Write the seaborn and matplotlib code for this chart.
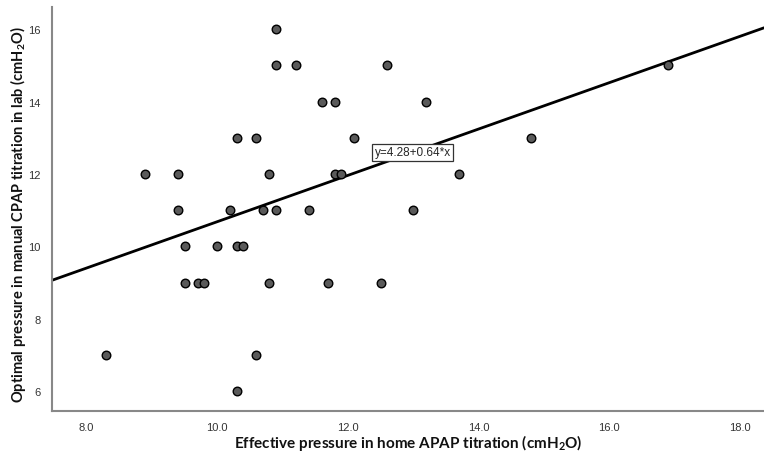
import matplotlib
matplotlib.use("Agg")
import matplotlib.pyplot as plt
import seaborn as sns
import pandas as pd
import numpy as np

# Data
home_apap = [10.9,
             10.9, 11.2, 12.6, 16.9,
             11.6, 11.8, 13.2,
             10.3, 10.6, 12.1, 14.8,
             8.9, 9.4, 10.8, 11.8, 11.9, 13.7,
             9.4, 10.2, 10.7, 10.9, 11.4, 13.0,
             9.5, 10.0, 10.3, 10.4,
             9.5, 9.7, 9.8, 10.8, 11.7, 12.5,
             8.3, 10.6,
             10.3]
lab_cpap = [16,
            15, 15, 15, 15,
            14, 14, 14,
            13, 13, 13, 13,
            12, 12, 12, 12, 12, 12,
            11, 11, 11, 11, 11, 11,
            10, 10, 10, 10,
            9, 9, 9, 9, 9, 9,
            7, 7,
            6]
intercept = 4.28
slope = 0.64
x_ticks = [8, 10, 12, 14, 16, 18]
y_ticks = [6, 8, 10, 12, 14, 16]
eq_label = "y=4.28+0.64*x"

df = pd.DataFrame({"x": home_apap, "y": lab_cpap})

sns.set_theme(style="white")
plt.rcParams["mathtext.default"] = "regular"
fig = plt.figure(figsize=(7.64, 4.56), dpi=100)
ax = fig.add_axes([0.068, 0.0965, 0.932, 0.885])

ax.set_xlim(7.47, 18.37)
ax.set_ylim(5.45, 16.6)

ax.axline((0, intercept), slope=slope, color="black", lw=2.0, zorder=2)

sns.scatterplot(data=df, x="x", y="y", ax=ax, s=38, color="#5a5a5a",
                edgecolor="black", linewidth=1.0, zorder=3, legend=False)

ax.text(12.41, 12.6, eq_label, fontsize=8.5, family="Liberation Sans",
        ha="left", va="center", zorder=4,
        bbox=dict(boxstyle="square,pad=0.2", fc="white", ec="#333333", lw=0.9))

ax.set_xticks(x_ticks)
ax.set_xticklabels([f"{v:.1f}" for v in x_ticks])
ax.set_yticks(y_ticks)
ax.set_yticklabels([str(v) for v in y_ticks])
ax.tick_params(axis="both", length=0, labelsize=8, labelcolor="#333333", pad=8)
for lab in ax.get_xticklabels() + ax.get_yticklabels():
    lab.set_family("Liberation Sans")

for s in ["top", "right"]:
    ax.spines[s].set_visible(False)
for s in ["left", "bottom"]:
    ax.spines[s].set_color("#888888")
    ax.spines[s].set_linewidth(1.5)

ax.set_xlabel("Effective pressure in home APAP titration (cmH$_2$O)",
              fontsize=11, fontweight="bold", family="Lato", color="#111111")
ax.set_ylabel("Optimal pressure in manual CPAP titration in lab (cmH$_2$O)",
              fontsize=10.5, fontweight="bold", family="Lato", color="#111111")
ax.xaxis.set_label_coords(0.5, -0.052)
ax.yaxis.set_label_coords(-0.034, 0.49)

fig.savefig("out.png", dpi=100)
